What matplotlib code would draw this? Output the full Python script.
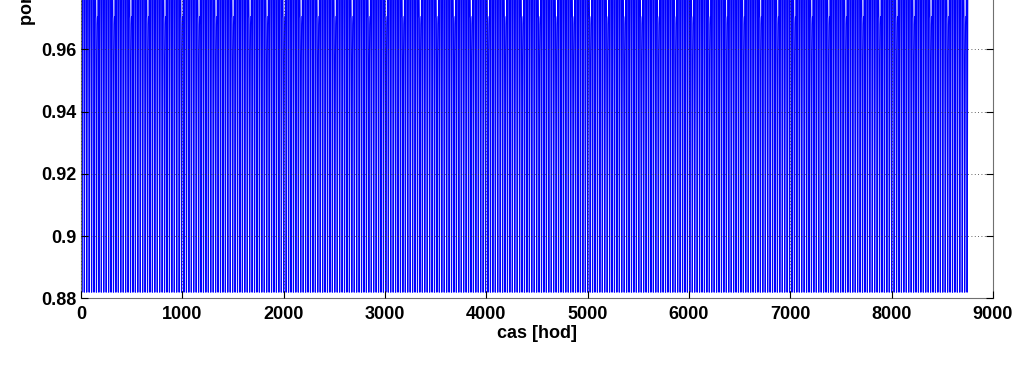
import numpy as np
import matplotlib
matplotlib.use("Agg")
from matplotlib import pyplot as plt

plt.rcParams["font.family"] = ["Liberation Sans", "DejaVu Sans"]
plt.rcParams["font.weight"] = "bold"

# hourly profile of one ordinary day and of the quieter day of the week
weekday_profile = [0.995, 0.995, 0.99, 0.975, 0.95, 0.92, 0.895, 0.882,
                   0.882, 0.89, 0.91, 0.93, 0.95, 0.965, 0.975, 0.985,
                   0.99, 0.995, 0.995, 0.995, 0.995, 0.995, 0.995, 0.995]
sunday_profile = [0.9705, 0.9705, 0.97, 0.96, 0.94, 0.915, 0.893, 0.882,
                  0.882, 0.888, 0.905, 0.922, 0.938, 0.95, 0.958, 0.965,
                  0.968, 0.9705, 0.9705, 0.9705, 0.9705, 0.9705, 0.9705, 0.9705]
week_days = ["po", "ut", "st", "ct", "pa", "so", "ne"]
n_hours = 8760

week = []
for d in week_days:
    week += sunday_profile if d == "ne" else weekday_profile
values = np.tile(week, n_hours // len(week) + 1)[:n_hours]
hours = np.arange(1, n_hours + 1)

fig = plt.figure(figsize=(10.24, 3.84), dpi=100)
ax = fig.add_axes([0.0791, 0.2227, 0.8906, 0.9734])
ax.plot(hours, values, color="#0000ff", linewidth=0.8)

ax.set_xlim(0, 9000)
ax.set_ylim(0.88, 1.0)
ax.set_xticks(np.arange(0, 9001, 1000))
ax.set_yticks([0.88, 0.9, 0.92, 0.94, 0.96, 0.98, 1.0])
ax.set_yticklabels(["0.88", "0.9", "0.92", "0.94", "0.96", "0.98", "1"])
ax.tick_params(direction="in", top=True, right=True, labelsize=13, length=5)
ax.tick_params(axis="x", pad=5.5)
ax.tick_params(axis="y", pad=3.5)
ax.grid(True, linestyle=(0, (1, 3)), color="#303030", linewidth=0.6)
ax.set_axisbelow(False)
for s in ax.spines.values():
    s.set_color("#707070")
ax.set_xlabel("cas [hod]", fontsize=13, fontweight="bold", labelpad=1)
fig.text(27 / 1024, 1 - 25 / 384, "porovnani [-]", rotation=90, ha="center", va="bottom",
         fontsize=13, fontweight="bold")

fig.savefig("out.png", dpi=100)
